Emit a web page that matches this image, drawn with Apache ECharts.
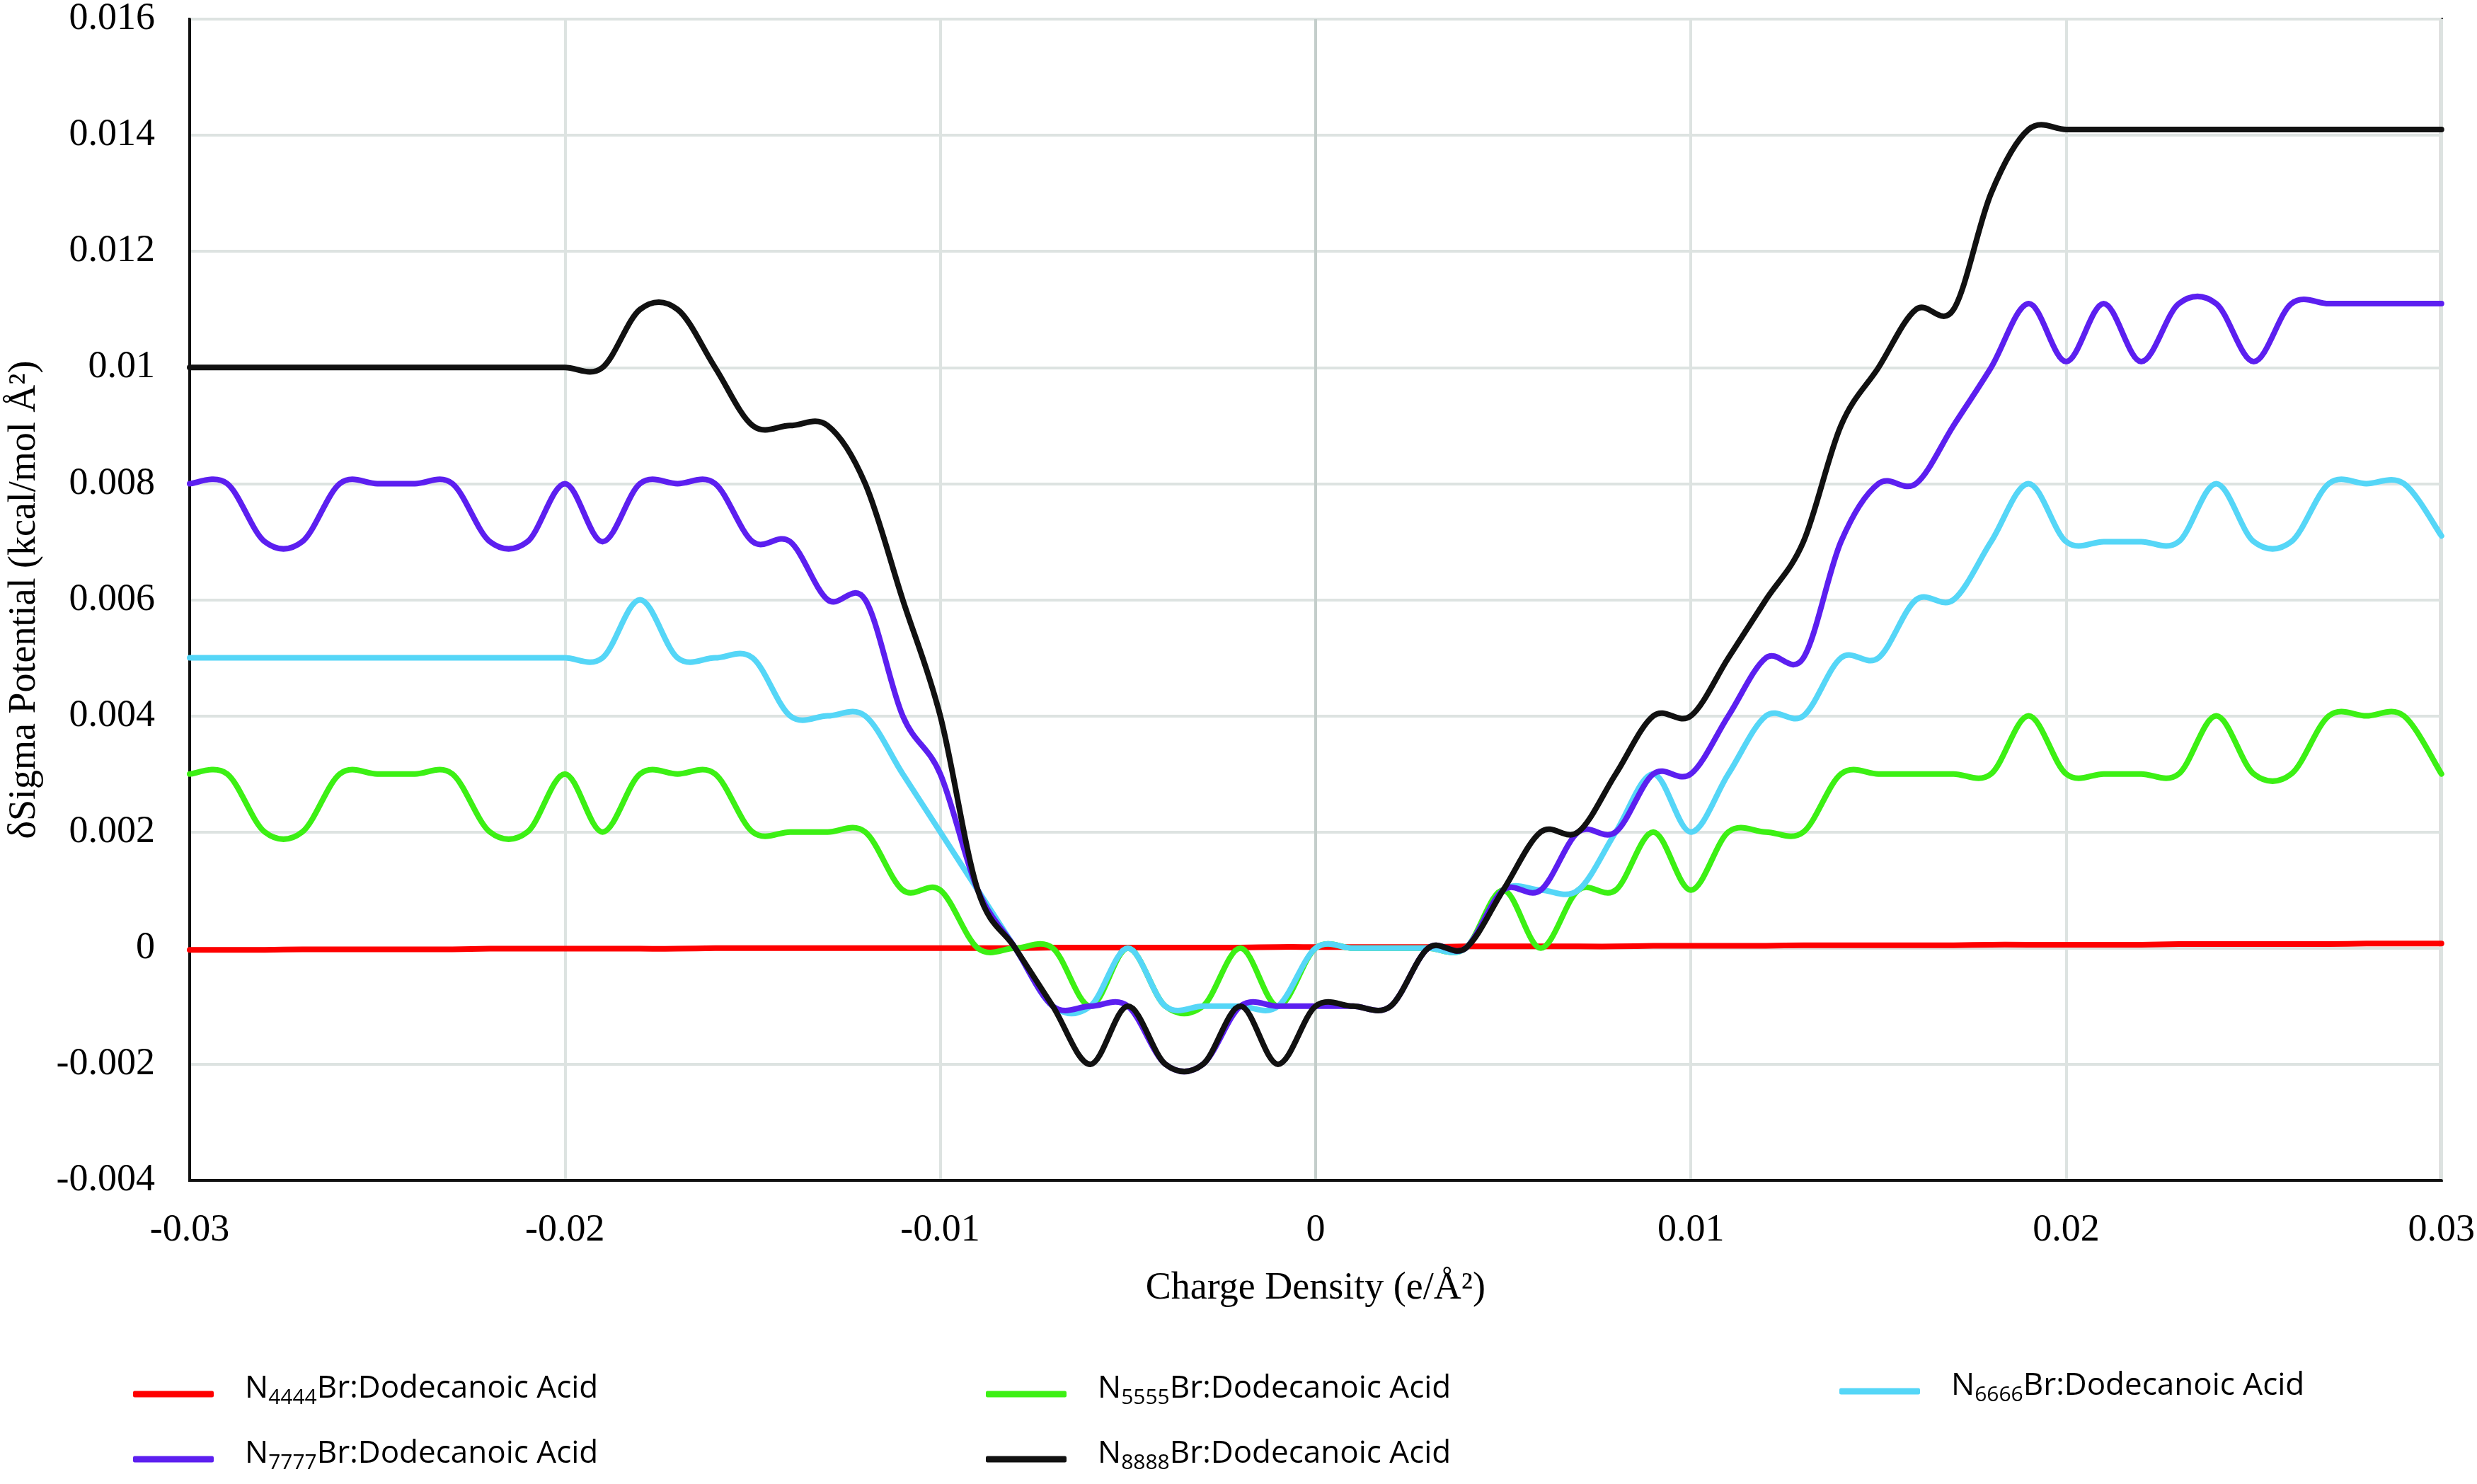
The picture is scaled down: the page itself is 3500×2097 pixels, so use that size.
<!DOCTYPE html>
<html>
<head>
<meta charset="utf-8">
<script src="https://cdn.jsdelivr.net/npm/echarts@6/dist/echarts.min.js"></script>
<style>
html,body{margin:0;padding:0;background:#fff;}
#chart{width:3500px;height:2097px;}
</style>
</head>
<body>
<div id="chart"></div>
<script>
// Charge density (e/Å²)
const charge = [-0.030,-0.029,-0.028,-0.027,-0.026,-0.025,-0.024,-0.023,-0.022,-0.021,
  -0.020,-0.019,-0.018,-0.017,-0.016,-0.015,-0.014,-0.013,-0.012,-0.011,
  -0.010,-0.009,-0.008,-0.007,-0.006,-0.005,-0.004,-0.003,-0.002,-0.001,
  0.000,0.001,0.002,0.003,0.004,0.005,0.006,0.007,0.008,0.009,
  0.010,0.011,0.012,0.013,0.014,0.015,0.016,0.017,0.018,0.019,
  0.020,0.021,0.022,0.023,0.024,0.025,0.026,0.027,0.028,0.029,0.030];

const n4444 = [-0.00003,-0.00003,-0.00003,-0.00002,-0.00002,-0.00002,-0.00002,-0.00002,-0.00001,-0.00001,
  -0.00001,-0.00001,-0.00001,-0.00001,0,0,0,0,0,0,
  0,0,0,0.00001,0.00001,0.00001,0.00001,0.00001,0.00001,0.00002,
  0.00002,0.00002,0.00002,0.00002,0.00003,0.00003,0.00003,0.00003,0.00003,0.00004,
  0.00004,0.00004,0.00004,0.00005,0.00005,0.00005,0.00005,0.00005,0.00006,0.00006,
  0.00006,0.00006,0.00006,0.00007,0.00007,0.00007,0.00007,0.00007,0.00008,0.00008,0.00008];

const n5555 = [0.003,0.003,0.002,0.002,0.003,0.003,0.003,0.003,0.002,0.002,
  0.003,0.002,0.003,0.003,0.003,0.002,0.002,0.002,0.002,0.001,
  0.001,0,0,0,-0.001,0,-0.001,-0.001,0,-0.001,
  0,0,0,0,0,0.001,0,0.001,0.001,0.002,
  0.001,0.002,0.002,0.002,0.003,0.003,0.003,0.003,0.003,0.004,
  0.003,0.003,0.003,0.003,0.004,0.003,0.003,0.004,0.004,0.004,0.003];

const n6666 = [0.005,0.005,0.005,0.005,0.005,0.005,0.005,0.005,0.005,0.005,
  0.005,0.005,0.006,0.005,0.005,0.005,0.004,0.004,0.004,0.003,
  0.002,0.001,0,-0.001,-0.001,0,-0.001,-0.001,-0.001,-0.001,
  0,0,0,0,0,0.001,0.001,0.001,0.002,0.003,
  0.002,0.003,0.004,0.004,0.005,0.005,0.006,0.006,0.007,0.008,
  0.007,0.007,0.007,0.007,0.008,0.007,0.007,0.008,0.008,0.008,0.0071];

const n7777 = [0.008,0.008,0.007,0.007,0.008,0.008,0.008,0.008,0.007,0.007,
  0.008,0.007,0.008,0.008,0.008,0.007,0.007,0.006,0.006,0.004,
  0.003,0.001,0,-0.001,-0.001,-0.001,-0.002,-0.002,-0.001,-0.001,
  -0.001,-0.001,-0.001,0,0,0.001,0.001,0.002,0.002,0.003,
  0.003,0.004,0.005,0.005,0.007,0.008,0.008,0.009,0.010,0.0111,
  0.0101,0.0111,0.0101,0.0111,0.0111,0.0101,0.0111,0.0111,0.0111,0.0111,0.0111];

const n8888 = [0.010,0.010,0.010,0.010,0.010,0.010,0.010,0.010,0.010,0.010,
  0.010,0.010,0.011,0.011,0.010,0.009,0.009,0.009,0.008,0.006,
  0.004,0.001,0,-0.001,-0.002,-0.001,-0.002,-0.002,-0.001,-0.002,
  -0.001,-0.001,-0.001,0,0,0.001,0.002,0.002,0.003,0.004,
  0.004,0.005,0.006,0.007,0.009,0.010,0.011,0.011,0.013,0.0141,
  0.0141,0.0141,0.0141,0.0141,0.0141,0.0141,0.0141,0.0141,0.0141,0.0141,0.0141];

const seriesNames = ['N4444Br:Dodecanoic Acid','N5555Br:Dodecanoic Acid','N6666Br:Dodecanoic Acid','N7777Br:Dodecanoic Acid','N8888Br:Dodecanoic Acid'];
const subs = ['4444','5555','6666','7777','8888'];
const seriesValues = [n4444, n5555, n6666, n7777, n8888];
const colors = ['#fe0000','#3cf014','#55d6f7','#5c1ff0','#111111'];

const serif = "'Liberation Serif','Times New Roman',serif";
const sans = "'Open Sans','Noto Sans',sans-serif";

const legendPos = [[183,1929],[1388,1929],[2594,1925],[183,2021],[1388,2021]];
const gridCol = '#dde3e1';

// Smooth curve through the data points (Catmull-Rom, like the spreadsheet's smoothed line),
// every point placed through the chart's own coordinate system.
function makeRenderItem(vals, color) {
  return function (params, api) {
    if (params.dataIndex !== 0) return null;
    const p = charge.map(function (x, j) { return api.coord([x, vals[j]]); });
    const n = p.length;
    let d = 'M' + p[0][0] + ' ' + p[0][1];
    for (let i = 0; i < n - 1; i++) {
      const p0 = p[Math.max(i - 1, 0)], p1 = p[i], p2 = p[i + 1], p3 = p[Math.min(i + 2, n - 1)];
      const c1x = p1[0] + (p2[0] - p0[0]) / 6, c1y = p1[1] + (p2[1] - p0[1]) / 6;
      const c2x = p2[0] - (p3[0] - p1[0]) / 6, c2y = p2[1] - (p3[1] - p1[1]) / 6;
      d += ' C' + c1x + ' ' + c1y + ' ' + c2x + ' ' + c2y + ' ' + p2[0] + ' ' + p2[1];
    }
    return {
      type: 'path',
      shape: {pathData: d},
      style: {fill: 'none', stroke: color, lineWidth: 8, lineJoin: 'round', lineCap: 'round'},
      silent: true
    };
  };
}

const chart = echarts.init(document.getElementById('chart'), null, {renderer:'canvas'});

const option = {
  animation: false,
  backgroundColor: '#ffffff',
  grid: {left: 268, right: 43, top: 22, bottom: 429, show: true, borderColor: '#111', borderWidth: 4, backgroundColor: 'transparent'},
  xAxis: {
    type: 'value', min: -0.03, max: 0.03, interval: 0.01,
    name: 'Charge Density (e/Å²)', nameLocation: 'middle', nameGap: 126,
    nameTextStyle: {fontFamily: serif, fontSize: 54, color: '#000'},
    axisLine: {show: true, onZero: false, lineStyle: {color: '#111', width: 4}},
    axisTick: {show: false},
    axisLabel: {fontFamily: serif, fontSize: 54, color: '#000', margin: 44,
      formatter: function (v) { return String(+v.toFixed(3)); }},
    splitLine: {show: true, lineStyle: {color: [gridCol, gridCol, gridCol, '#c4cecb', gridCol, gridCol, gridCol], width: 4}}
  },
  yAxis: {
    type: 'value', min: -0.004, max: 0.016, interval: 0.002,
    name: 'δSigma Potential (kcal/mol Å²)', nameLocation: 'middle', nameGap: 206,
    nameTextStyle: {fontFamily: serif, fontSize: 54, color: '#000'},
    axisLine: {show: true, onZero: false, lineStyle: {color: '#111', width: 4}},
    axisTick: {show: false},
    axisLabel: {fontFamily: serif, fontSize: 54, color: '#000', margin: 49,
      formatter: function (v) { return String(+v.toFixed(3)); }},
    splitLine: {show: true, lineStyle: {color: gridCol, width: 4}}
  },
  legend: seriesNames.map(function (name, i) {
    return {
      data: [name], left: legendPos[i][0], top: legendPos[i][1], orient: 'horizontal',
      icon: 'roundRect', itemWidth: 114, itemHeight: 9, selectedMode: false,
      formatter: function () { return 'N{sub|' + subs[i] + '}Br:Dodecanoic Acid'; },
      textStyle: {fontFamily: sans, fontSize: 44, color: '#000', lineHeight: 56, padding: [0,0,16,39],
        rich: {sub: {fontFamily: sans, fontSize: 30, color: '#000', lineHeight: 22, verticalAlign: 'bottom'}}}
    };
  }),
  series: seriesNames.map(function (name, i) {
    return {
      name: name, type: 'custom', coordinateSystem: 'cartesian2d',
      color: colors[i], itemStyle: {color: colors[i]}, z: 2 + i,
      renderItem: makeRenderItem(seriesValues[i], colors[i]),
      encode: {x: 0, y: 1},
      data: charge.map(function (x, j) { return [x, seriesValues[i][j]]; })
    };
  })
};
chart.setOption(option);
</script>
</body>
</html>
